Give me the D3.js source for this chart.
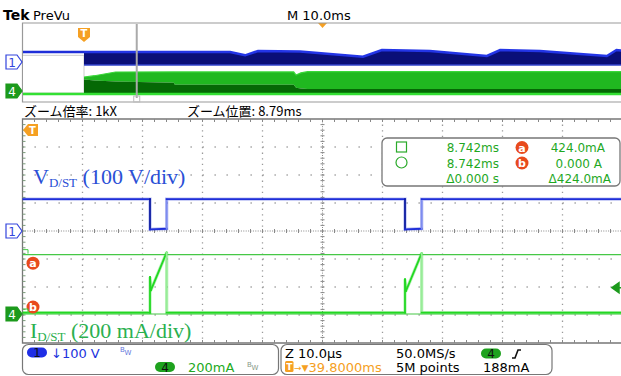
<!DOCTYPE html>
<html>
<head>
<meta charset="utf-8">
<script src="https://cdn.jsdelivr.net/npm/d3@7/dist/d3.min.js"></script>
<style>
  html, body { margin: 0; padding: 0; background: #fff; }
  svg { display: block; font-family: "DejaVu Sans", sans-serif; }
</style>
</head>
<body>
<svg id="scope" width="621" height="376"></svg>
<script>
// ---- zoomed window, 10 us/div, time measured from left edge of screen (us)
const ch1Time  = [0, 21.25, 21.25, 24.03, 24.03, 63.75, 63.75, 66.53, 66.53, 100];
const ch1Volts = [114, 114, 6, 8, 114, 114, 6, 8, 114, 114];

const ch4Time  = [0, 21.25, 21.25, 21.4, 24.03, 24.03, 63.75, 63.75, 63.9, 66.53, 66.53, 100];
const ch4mA    = [10, 10, 264, 170, 440, 10, 10, 248, 164, 434, 10, 10];

const cursorA = 424.0;   // mA
const cursorB = 0;       // mA

// ---- PreVu overview, 10 ms/div (ms from left edge)
const trigTime = 10.25;
const zoomPos = 8.79;    // ms after trigger
const ovCh1Time = [10.25, 34.6, 37.1, 39.25, 46.25, 56.75, 59.9, 67.9, 77.4, 79.6, 86.25, 97.4, 99, 100];
const ovCh1Max  = [114, 114, 80, 125, 120, 66, 135, 125, 73, 135, 125, 73, 135, 130];
const ovCh1Min  = [-22, -22, -22, -22, -22, -22, -22, -22, -22, -22, -22, -22, -22, -22];
const ovCh4Time = [10.25, 12, 15.5, 25.2, 25.4, 45.2, 45.6, 46.4, 47.5, 60, 100];
const ovCh4Max  = [333, 360, 437, 440, 440, 440, 375, 420, 445, 445, 445];
const ovCh4Mid  = [280, 262, 240, 215, 170, 170, 110, 95, 85, 85, 85];

// ---- readouts
const cursorRows = [
  {icon: "square", time: "8.742ms", tag: "a", val: "424.0mA"},
  {icon: "circle", time: "8.742ms", tag: "b", val: "0.000 A"},
  {icon: null, time: "\u03940.000 s", tag: null, val: "\u0394424.0mA"}
];

const blue = "#1e2ed8", green = "#22d822", orange = "#f5a023", cursorRed = "#e84a1c", gridGray = "#9a9a9a";
const serif = "'Liberation Serif', 'DejaVu Serif', serif";
const cjk = "'Noto Sans CJK JP', sans-serif";

const svg = d3.select("#scope");

// scales
const x = d3.scaleLinear().domain([0, 100]).range([22.5, 622.5]);
const yV = d3.scaleLinear().domain([-400, 400]).range([343, 119]);
const yI = d3.scaleLinear().domain([0, 200]).range([314, 286]);
const ox = d3.scaleLinear().domain([0, 100]).range([22.5, 622.5]);
const oyV = d3.scaleLinear().domain([0, 100]).range([63, 53.4]);
const oyI = d3.scaleLinear().domain([0, 200]).range([93, 83.4]);

const defs = svg.append("defs");
defs.append("clipPath").attr("id", "mainClip")
  .append("rect").attr("x", 22.5).attr("y", 119).attr("width", 600).attr("height", 224);
defs.append("clipPath").attr("id", "ovClip")
  .append("rect").attr("x", 23).attr("y", 23).attr("width", 600).attr("height", 79);

// ---- header
svg.append("text").attr("x", 3).attr("y", 20).attr("font-size", 14).attr("font-weight", "bold").text("Tek");
svg.append("text").attr("x", 33).attr("y", 20).attr("font-size", 13).text("PreVu");
svg.append("text").attr("x", 287).attr("y", 20).attr("font-size", 13).text("M 10.0ms");
svg.append("path").attr("d", "M318,23 L327,23 L322.5,28 Z").attr("fill", orange);

// ---- overview frame
const ov = svg.append("g");
ov.append("path").attr("d", "M621,23 L22.5,23 L22.5,102 L621,102")
  .attr("fill", "none").attr("stroke", "#999").attr("stroke-width", 1.2);

const ovPlot = ov.append("g").attr("clip-path", "url(#ovClip)");
// pre-trigger region: nothing acquired
ovPlot.append("rect").attr("x", ox(0)).attr("y", oyV(80)).attr("width", ox(trigTime) - ox(0))
  .attr("height", oyI(0) - oyV(80)).attr("fill", "#fff").attr("stroke", "#ccc");
ovPlot.append("line").attr("x1", ox(0)).attr("x2", ox(trigTime))
  .attr("y1", oyV(114)).attr("y2", oyV(114)).attr("stroke", blue).attr("stroke-width", 2.5);

const ovV = ovCh1Time.map((t, i) => ({t, hi: ovCh1Max[i], lo: ovCh1Min[i]}));
ovPlot.append("path").datum(ovV)
  .attr("d", d3.area().x(d => ox(d.t)).y0(d => oyV(d.lo)).y1(d => oyV(d.hi)))
  .attr("fill", "#0a0f78");
ovPlot.append("path").datum(ovV)
  .attr("d", d3.line().x(d => ox(d.t)).y(d => oyV(d.hi)))
  .attr("fill", "none").attr("stroke", "#2335e6").attr("stroke-width", 2.5);
ovPlot.append("path").datum(ovV)
  .attr("d", d3.line().x(d => ox(d.t)).y(d => oyV(d.lo)))
  .attr("fill", "none").attr("stroke", "#3344cc").attr("stroke-width", 1.5);

const ovI = ovCh4Time.map((t, i) => ({t, hi: ovCh4Max[i], mid: ovCh4Mid[i]}));
ovPlot.append("path").datum(ovI)
  .attr("d", d3.area().x(d => ox(d.t)).y0(d => oyI(d.mid)).y1(d => oyI(d.hi)))
  .attr("fill", "#20b820");
ovPlot.append("path").datum(ovI)
  .attr("d", d3.area().x(d => ox(d.t)).y0(oyI(0)).y1(d => oyI(d.mid)))
  .attr("fill", "#056805");
ovPlot.append("path").datum(ovI)
  .attr("d", d3.line().x(d => ox(d.t)).y(d => oyI(d.hi)))
  .attr("fill", "none").attr("stroke", "#3ad83a").attr("stroke-width", 1.2);
ovPlot.append("line").attr("x1", ox(0)).attr("x2", ox(100))
  .attr("y1", oyI(0) + 1).attr("y2", oyI(0) + 1).attr("stroke", "#33e033").attr("stroke-width", 2.5);

// zoom position marker
const zx = ox(trigTime + zoomPos);
ov.append("line").attr("x1", zx).attr("x2", zx).attr("y1", 24).attr("y2", 98)
  .attr("stroke", "#aaa").attr("stroke-width", 2);
ov.append("rect").attr("x", zx - 3).attr("y", 96).attr("width", 6).attr("height", 6)
  .attr("fill", "none").attr("stroke", "#bbb");

// trigger marker in overview (points down)
const tg = ov.append("g").attr("transform", `translate(${ox(trigTime)},34)`);
tg.append("path").attr("d", "M-6,-6 L6,-6 L6,3 L0,8 L-6,3 Z").attr("fill", orange);
tg.append("text").attr("x", 0).attr("y", 3).attr("text-anchor", "middle")
  .attr("font-size", 10).attr("font-weight", "bold").attr("fill", "#fff").text("T");

// channel markers
function chMarker(px, py, label, filled, color) {
  const g = svg.append("g").attr("transform", `translate(${px},${py})`);
  g.append("path").attr("d", "M-15,-7 L-4,-7 L1,0 L-4,7 L-15,7 Z")
    .attr("fill", filled ? color : "#fff").attr("stroke", color).attr("stroke-width", 1.2);
  g.append("text").attr("x", -9).attr("y", 4.5).attr("text-anchor", "middle").attr("font-size", 12)
    .attr("fill", filled ? "#fff" : color).text(label);
}
chMarker(21, 62, "1", false, "#3344dd");
chMarker(21, 91, "4", true, "#1c9a1c");

// ---- zoom info row
svg.append("text").attr("x", 24).attr("y", 116).style("font-family", cjk).attr("font-size", 13)
  .text("ズーム倍率: 1kX");
svg.append("text").attr("x", 187).attr("y", 116).style("font-family", cjk).attr("font-size", 13)
  .text("ズーム位置: 8.79ms");

// ---- main graticule
const grid = svg.append("g");
const vTicks = x.ticks(10), hTicks = yV.ticks(8);
grid.selectAll(".vg").data(vTicks.filter(t => t > 0 && t < 100 && t !== 50)).enter().append("line")
  .attr("x1", d => x(d)).attr("x2", d => x(d)).attr("y1", 119).attr("y2", 343)
  .attr("stroke", gridGray).attr("stroke-width", 1.3).attr("stroke-dasharray", "1.3,4.3");
grid.selectAll(".hg").data(hTicks.filter(v => v > -400 && v < 400 && v !== 0)).enter().append("line")
  .attr("x1", 22.5).attr("x2", 621).attr("y1", d => yV(d)).attr("y2", d => yV(d))
  .attr("stroke", gridGray).attr("stroke-width", 1.3).attr("stroke-dasharray", "1.3,10.7");
// centre lines with minor ticks
grid.append("line").attr("x1", 22.5).attr("x2", 621).attr("y1", yV(0)).attr("y2", yV(0))
  .attr("stroke", "#888").attr("stroke-dasharray", "1,1.4");
grid.selectAll(".ct").data(d3.range(0, 100, 2)).enter().append("line")
  .attr("x1", d => x(d)).attr("x2", d => x(d)).attr("y1", yV(0) - 2).attr("y2", yV(0) + 2)
  .attr("stroke", "#888");
grid.append("line").attr("x1", x(50)).attr("x2", x(50)).attr("y1", 119).attr("y2", 343)
  .attr("stroke", "#888").attr("stroke-dasharray", "1,1.4");
grid.selectAll(".cv").data(d3.range(-400, 400, 20)).enter().append("line")
  .attr("x1", x(50) - 2).attr("x2", x(50) + 2).attr("y1", d => yV(d)).attr("y2", d => yV(d))
  .attr("stroke", "#888");
// borders with ticks
grid.append("path").attr("d", "M621,119 L22.5,119 L22.5,343 L621,343")
  .attr("fill", "none").attr("stroke", "#777").attr("stroke-width", 1.3);
grid.selectAll(".tt").data(d3.range(2, 100, 2)).enter().append("path")
  .attr("d", d => `M${x(d)},119 v3 M${x(d)},343 v-3`).attr("stroke", "#888");
grid.selectAll(".lt").data(d3.range(-380, 400, 20)).enter().append("line")
  .attr("x1", 22.5).attr("x2", 25.5).attr("y1", d => yV(d)).attr("y2", d => yV(d)).attr("stroke", "#7a9a7a");

// ---- labels
svg.append("text").attr("x", 33).attr("y", 184).style("font-family", serif)
  .attr("font-size", 22).attr("fill", "#2a4fd6")
  .call(t => {
    t.append("tspan").text("V");
    t.append("tspan").attr("font-size", 13).attr("dy", 3).text("D/ST");
    t.append("tspan").attr("dy", -3).text(" (100 V/div)");
  });
svg.append("text").attr("x", 30).attr("y", 338).style("font-family", serif)
  .attr("font-size", 22).attr("fill", "#2bb04f")
  .call(t => {
    t.append("tspan").text("I");
    t.append("tspan").attr("font-size", 13).attr("dy", 3).text("D/ST");
    t.append("tspan").attr("dy", -3).text(" (200 mA/div)");
  });

// ---- cursors
const plot = svg.append("g").attr("clip-path", "url(#mainClip)");
[cursorA, cursorB].forEach(v => {
  plot.append("line").attr("x1", 22.5).attr("x2", 621).attr("y1", yI(v)).attr("y2", yI(v))
    .attr("stroke", "#46c846").attr("stroke-width", 1.2);
});

// ---- traces, edges shaded by direction
function trace(times, vals, ys, main, fall, rise, width) {
  const pts = times.map((t, i) => [x(t), ys(vals[i])]);
  plot.append("path").datum(pts).attr("d", d3.line())
    .attr("fill", "none").attr("stroke", main).attr("stroke-opacity", 0.3).attr("stroke-width", width + 1.5);
  plot.selectAll(null).data(d3.pairs(pts)).enter().append("line")
    .attr("x1", d => d[0][0]).attr("y1", d => d[0][1]).attr("x2", d => d[1][0]).attr("y2", d => d[1][1])
    .attr("stroke", d => Math.abs(d[0][0] - d[1][0]) < 0.01 ? (d[1][1] > d[0][1] ? fall : rise) : main)
    .attr("stroke-width", width).attr("stroke-linecap", "square");
}
trace(ch1Time, ch1Volts, yV, blue, "#0c1aa0", "#7d8cf0", 1.8);
trace(ch4Time, ch4mA, yI, green, "#98ec98", green, 1.8);

// ---- left markers in main window
chMarker(21, yV(0), "1", false, "#3344dd");
chMarker(21, yI(0), "4", true, "#1c9a1c");
const tm = svg.append("g").attr("transform", "translate(31,130)");
tm.append("path").attr("d", "M-8,0 L-3,-6 L7,-6 L7,6 L-3,6 Z").attr("fill", orange);
tm.append("text").attr("x", 1.5).attr("y", 4).attr("text-anchor", "middle").attr("font-size", 10)
  .attr("font-weight", "bold").attr("fill", "#fff").text("T");
function tagCircle(g, cx, cy, label) {
  g.append("circle").attr("cx", cx).attr("cy", cy).attr("r", 6.5).attr("fill", cursorRed);
  g.append("text").attr("x", cx).attr("y", cy + 4).attr("text-anchor", "middle").attr("font-size", 11)
    .attr("font-weight", "bold").attr("fill", "#fff").text(label);
}
tagCircle(svg, 33, yI(cursorA) + 8.5, "a");
tagCircle(svg, 33, yI(cursorB) - 7, "b");
[cursorA, cursorB].forEach(v => {
  svg.append("path").attr("d", `M23,${yI(v) - 5} h5 v4`).attr("fill", "none").attr("stroke", "#46c846");
});
// trigger level arrow on right
svg.append("path").attr("d", `M612,${yI(188)} l7,-5 v10 Z M616,${yI(188)} h6`)
  .attr("fill", "#1c9a1c").attr("stroke", "#1c9a1c").attr("stroke-width", 1.5);

// ---- cursor readout box
const cb = svg.append("g");
cb.append("rect").attr("x", 382).attr("y", 138).attr("width", 238).attr("height", 48).attr("rx", 5)
  .attr("fill", "#fff").attr("stroke", "#777").attr("stroke-width", 1.3);
cursorRows.forEach((r, i) => {
  const by = 152 + i * 15.5;
  if (r.icon === "square") cb.append("rect").attr("x", 396.5).attr("y", by - 10).attr("width", 10).attr("height", 10)
    .attr("fill", "none").attr("stroke", "#2aaa2a").attr("stroke-width", 1.2);
  if (r.icon === "circle") cb.append("circle").attr("cx", 401.5).attr("cy", by - 5).attr("r", 5.5)
    .attr("fill", "none").attr("stroke", "#2aaa2a").attr("stroke-width", 1.2);
  cb.append("text").attr("x", 499).attr("y", by).attr("text-anchor", "end").attr("font-size", 12)
    .attr("fill", "#1fa81f").text(r.time);
  if (r.tag) tagCircle(cb, 522, by - 4.5, r.tag);
  cb.append("text").attr("x", i === 2 ? 611 : (i === 1 ? 602 : 605)).attr("y", by).attr("text-anchor", "end")
    .attr("font-size", 12).attr("fill", "#1fa81f").text(r.val);
});

// ---- bottom readouts
const bt = svg.append("g");
bt.append("rect").attr("x", 22.5).attr("y", 344.5).attr("width", 256).attr("height", 30).attr("rx", 6)
  .attr("fill", "#fff").attr("stroke", "#777").attr("stroke-width", 1.2);
bt.append("rect").attr("x", 281).attr("y", 344.5).attr("width", 271).attr("height", 30).attr("rx", 6)
  .attr("fill", "#fff").attr("stroke", "#777").attr("stroke-width", 1.2);
function pill(cx, cy, fill, label) {
  bt.append("rect").attr("x", cx - 10).attr("y", cy - 5).attr("width", 20).attr("height", 10).attr("rx", 5).attr("fill", fill);
  bt.append("text").attr("x", cx).attr("y", cy + 4.5).attr("text-anchor", "middle").attr("font-size", 12)
    .attr("fill", "#111").text(label);
}
function bw(px, py, color) {
  bt.append("text").attr("x", px).attr("y", py).attr("font-size", 7).attr("fill", color)
    .call(t => { t.append("tspan").text("B"); t.append("tspan").attr("dy", 3).text("W"); });
}
pill(37, 352.5, "#1f2ee6", "1");
bt.append("text").attr("x", 51).attr("y", 357.5).attr("font-size", 13).attr("fill", "#2233dd").text("\u2193100 V");
bw(120, 352, "#6677dd");
pill(165, 367, "#1ea21e", "4");
bt.append("text").attr("x", 188).attr("y", 372).attr("font-size", 13).attr("fill", "#22aa22").text("200mA");
bw(247, 367, "#889988");

bt.append("text").attr("x", 285).attr("y", 358).attr("font-size", 13).text("Z 10.0\u00b5s");
bt.append("text").attr("x", 396).attr("y", 358).attr("font-size", 13).text("50.0MS/s");
pill(491, 353.5, "#1ea21e", "4");
bt.append("path").attr("d", "M512,358 h3 l3,-8 h3").attr("fill", "none").attr("stroke", "#111").attr("stroke-width", 1.6);
bt.append("rect").attr("x", 285).attr("y", 361).attr("width", 8.5).attr("height", 11).attr("rx", 1.5).attr("fill", orange);
bt.append("text").attr("x", 289.2).attr("y", 370).attr("text-anchor", "middle").attr("font-size", 9)
  .attr("font-weight", "bold").attr("fill", "#fff").text("T");
bt.append("text").attr("x", 294).attr("y", 372).attr("font-size", 13).attr("fill", orange)
  .call(t => {
    t.append("tspan").attr("font-size", 9).attr("dy", -1).text("\u2192\u25bc");
    t.append("tspan").attr("dy", 1).text("39.8000ms");
  });
bt.append("text").attr("x", 396).attr("y", 372).attr("font-size", 13).text("5M points");
bt.append("text").attr("x", 483).attr("y", 372).attr("font-size", 13).text("188mA");
</script>
</body>
</html>
